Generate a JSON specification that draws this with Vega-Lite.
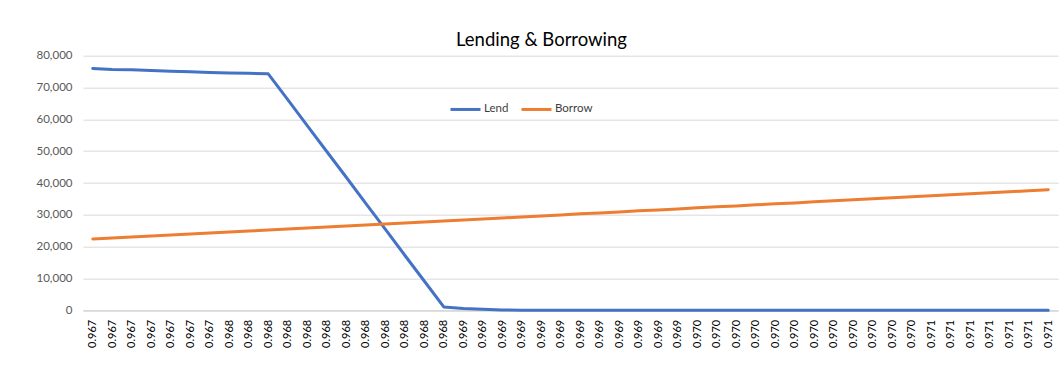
{
  "$schema": "https://vega.github.io/schema/vega-lite/v6.json",
  "autosize": {"type": "none"},
  "width": 975,
  "height": 254.6,
  "padding": {"left": 83, "top": 55.7, "right": 4, "bottom": 61.7},
  "background": "#ffffff",
  "title": {
    "text": "Lending & Borrowing",
    "font": "Lato",
    "fontSize": 18.5,
    "fontWeight": "normal",
    "color": "#000000",
    "anchor": "middle",
    "dx": -29,
    "offset": 0
  },
  "config": {
    "view": {"stroke": null},
    "font": "Lato"
  },
  "data": {
    "values": [
      {"rate": 0.96696, "Lend": 76000, "Borrow": 22400},
      {"rate": 0.96704, "Lend": 75650, "Borrow": 22700},
      {"rate": 0.96713, "Lend": 75550, "Borrow": 23000},
      {"rate": 0.96721, "Lend": 75350, "Borrow": 23350},
      {"rate": 0.96729, "Lend": 75150, "Borrow": 23650},
      {"rate": 0.96738, "Lend": 74950, "Borrow": 24000},
      {"rate": 0.96746, "Lend": 74750, "Borrow": 24300},
      {"rate": 0.96754, "Lend": 74600, "Borrow": 24600},
      {"rate": 0.96763, "Lend": 74450, "Borrow": 24900},
      {"rate": 0.96771, "Lend": 74300, "Borrow": 25200},
      {"rate": 0.96779, "Lend": 66200, "Borrow": 25550},
      {"rate": 0.96788, "Lend": 58000, "Borrow": 25850},
      {"rate": 0.96796, "Lend": 49900, "Borrow": 26150},
      {"rate": 0.96804, "Lend": 41800, "Borrow": 26500},
      {"rate": 0.96813, "Lend": 33600, "Borrow": 26800},
      {"rate": 0.96821, "Lend": 25500, "Borrow": 27100},
      {"rate": 0.96829, "Lend": 17300, "Borrow": 27450},
      {"rate": 0.96838, "Lend": 9200, "Borrow": 27750},
      {"rate": 0.96846, "Lend": 1050, "Borrow": 28050},
      {"rate": 0.96854, "Lend": 600, "Borrow": 28400},
      {"rate": 0.96863, "Lend": 300, "Borrow": 28700},
      {"rate": 0.96871, "Lend": 100, "Borrow": 29000},
      {"rate": 0.96879, "Lend": 40, "Borrow": 29350},
      {"rate": 0.96888, "Lend": 0, "Borrow": 29650},
      {"rate": 0.96896, "Lend": 0, "Borrow": 29950},
      {"rate": 0.96904, "Lend": 0, "Borrow": 30300},
      {"rate": 0.96913, "Lend": 0, "Borrow": 30600},
      {"rate": 0.96921, "Lend": 0, "Borrow": 30900},
      {"rate": 0.96929, "Lend": 0, "Borrow": 31250},
      {"rate": 0.96938, "Lend": 0, "Borrow": 31550},
      {"rate": 0.96946, "Lend": 0, "Borrow": 31850},
      {"rate": 0.96954, "Lend": 0, "Borrow": 32200},
      {"rate": 0.96963, "Lend": 0, "Borrow": 32500},
      {"rate": 0.96971, "Lend": 0, "Borrow": 32800},
      {"rate": 0.96979, "Lend": 0, "Borrow": 33150},
      {"rate": 0.96988, "Lend": 0, "Borrow": 33450},
      {"rate": 0.96996, "Lend": 0, "Borrow": 33750},
      {"rate": 0.97004, "Lend": 0, "Borrow": 34100},
      {"rate": 0.97013, "Lend": 0, "Borrow": 34400},
      {"rate": 0.97021, "Lend": 0, "Borrow": 34700},
      {"rate": 0.97029, "Lend": 0, "Borrow": 35050},
      {"rate": 0.97038, "Lend": 0, "Borrow": 35350},
      {"rate": 0.97046, "Lend": 0, "Borrow": 35650},
      {"rate": 0.97054, "Lend": 0, "Borrow": 36000},
      {"rate": 0.97063, "Lend": 0, "Borrow": 36300},
      {"rate": 0.97071, "Lend": 0, "Borrow": 36600},
      {"rate": 0.97079, "Lend": 0, "Borrow": 36950},
      {"rate": 0.97088, "Lend": 0, "Borrow": 37250},
      {"rate": 0.97096, "Lend": 0, "Borrow": 37550},
      {"rate": 0.97104, "Lend": 0, "Borrow": 37900}
    ]
  },
  "transform": [{"fold": ["Lend", "Borrow"], "as": ["series", "value"]}],
  "mark": {"type": "line", "strokeWidth": 3, "strokeCap": "round", "strokeJoin": "round"},
  "encoding": {
    "x": {
      "field": "rate",
      "type": "ordinal",
      "scale": {"paddingInner": 0, "paddingOuter": 0},
      "axis": {
        "title": null,
        "labelExpr": "format(datum.value, '.3f')",
        "labelAngle": -90,
        "labelAlign": "right",
        "labelBaseline": "middle",
        "labelFont": "Lato",
        "labelFontSize": 11,
        "labelColor": "#000000",
        "labelPadding": 9,
        "ticks": false,
        "domainColor": "#d9d9d9",
        "domainWidth": 1.5,
        "grid": false
      }
    },
    "y": {
      "field": "value",
      "type": "quantitative",
      "scale": {"domain": [0, 80000], "nice": false},
      "axis": {
        "title": null,
        "values": [0, 10000, 20000, 30000, 40000, 50000, 60000, 70000, 80000],
        "format": ",d",
        "labelFont": "Lato",
        "labelFontSize": 11.5,
        "labelColor": "#595959",
        "labelPadding": 11,
        "ticks": false,
        "domain": false,
        "grid": true,
        "gridColor": "#d9d9d9",
        "gridWidth": 1
      }
    },
    "color": {
      "field": "series",
      "type": "nominal",
      "scale": {"domain": ["Lend", "Borrow"], "range": ["#4472C4", "#ED7D31"]},
      "legend": {
        "title": null,
        "orient": "none",
        "legendX": 366,
        "legendY": 37,
        "direction": "horizontal",
        "symbolType": "stroke",
        "symbolSize": 900,
        "symbolStrokeWidth": 3,
        "labelFont": "Lato",
        "labelFontSize": 11.5,
        "labelColor": "#404040",
        "labelOffset": 2,
        "columnPadding": 6
      }
    }
  }
}
